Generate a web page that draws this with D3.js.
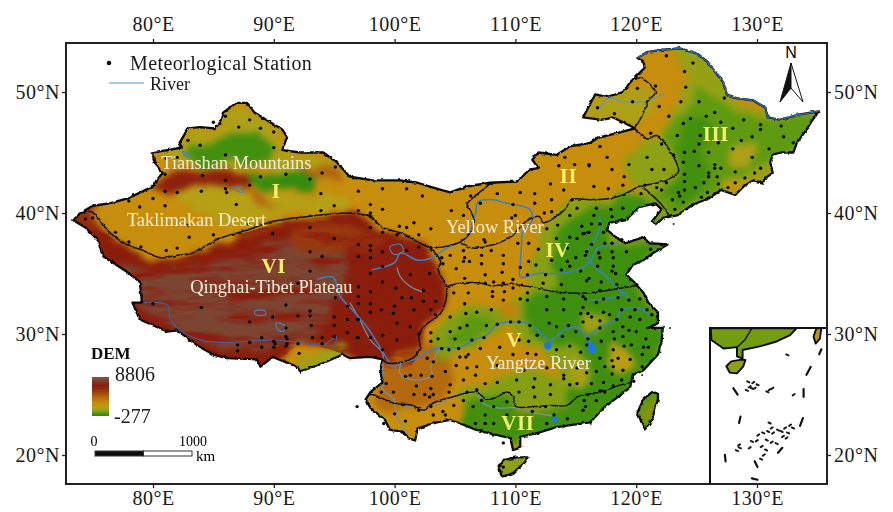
<!DOCTYPE html>
<html>
<head>
<meta charset="utf-8">
<script src="https://cdn.jsdelivr.net/npm/d3@7"></script>
<style>
  html,body{margin:0;padding:0;background:#fff;}
  svg{display:block;}
  text{font-family:"Liberation Serif",serif;}
</style>
</head>
<body>
<div id="chart"></div>
<script>
// tick labels
const lonTicks = [80, 90, 100, 110, 120, 130];
const latTicks = [20, 30, 40, 50];

// dem colours, elevation in m
const demStops = [0, 150, 300, 550, 800, 1100, 1700, 2500, 3300, 5200, 8806];
const demColors = ["#2c8a10", "#3f8f0e", "#5f9a10", "#8ea015", "#b5a016", "#c78d0c", "#b4690e", "#98380f", "#8a1d0b", "#7c4532", "#7a5a4a"];
const legendOffsets = [1, 0.96, 0.92, 0.86, 0.78, 0.68, 0.52, 0.36, 0.22, 0.08, 0];

// mainland outline, lon/lat
const chinaOutline = [[73.4,39.4],[74,40],[75,40.6],[76.4,40.8],[77.9,41.2],[80,42.2],[80.3,42.7],[80.8,43.3],[80.2,44],[79.9,45],[81.2,45.2],[82.4,45.4],[82.2,45.8],[82.9,47],[83.9,47.1],[85.1,47],[85.5,47.4],[85.8,48.3],[86.9,49.1],[87.8,49.1],[88.4,48.3],[89.7,47.5],[90.7,46.9],[91.1,46.3],[90.7,45.2],[92.2,45],[94.1,45],[95.2,44.2],[96.3,43],[98.2,42.7],[100.5,42.7],[101.9,42.5],[103.2,42.1],[104.6,41.7],[106,42.2],[107.9,42.5],[110.1,42.6],[111.2,43.6],[111.9,43.7],[111.4,44.4],[111.9,45],[113.4,44.8],[114.5,45.5],[116.2,45.8],[116.8,46.2],[118.4,46.6],[119.9,47],[118.1,47.9],[117.2,47.7],[115.6,47.9],[116.6,49.8],[117.6,49.6],[118.9,50],[119.5,50.8],[120.7,52],[120.6,52.5],[120.1,52.8],[120.9,53.3],[122.2,53.5],[123.6,53.6],[125,53.2],[125.9,52.5],[126.5,51.7],[127.2,50.8],[127.5,49.8],[128.3,49.5],[129.7,49.3],[130.7,48.7],[130.9,47.9],[131.9,47.7],[133.3,48.1],[135.1,48.4],[134.6,47.7],[134.1,46.9],[133.3,45.8],[133,45],[131.9,45],[131.3,44.8],[131.1,44.2],[131.3,43.3],[130.7,42.9],[130.5,42.5],[129.7,42.7],[128.9,42.2],[128.2,41.5],[127,41.9],[126,41.2],[124.7,40.7],[123.4,39.8],[122.2,39.6],[121.6,39],[121.3,39.3],[122.1,40.3],[121.6,40.8],[120.3,40.5],[119.1,39.4],[117.8,39.2],[117.6,38.6],[118.3,38],[119.1,37.5],[120.6,38],[121.1,37.5],[122.6,37.4],[121.4,36.7],[120.6,36.1],[119.7,35.7],[119.2,34.9],[119.9,34.2],[120.6,33.4],[121,32.6],[121.8,31.8],[121.8,30.9],[121,30.5],[122.2,30.5],[122.1,29.4],[121.8,28.3],[120.6,27],[119.7,26.6],[119.5,25.6],[118.5,24.8],[117.3,23.9],[116.2,22.7],[113.4,22.3],[111.8,21.8],[110.4,21.5],[110.4,20.6],[109.8,20.4],[109.6,21.4],[108.2,21.7],[106.7,22.1],[105.7,22.5],[104.6,22.9],[103.5,22.7],[101.9,22.2],[101.7,21.2],[101.1,21.4],[100.7,21.9],[99.6,22.1],[99.2,22.9],[98,23.9],[97.6,24.6],[98,25.2],[99,26],[98.8,27],[99,27.9],[98,28.1],[97.6,28.1],[96.3,28],[95.7,28.3],[94.1,27.6],[92.2,26.9],[91.9,27.3],[89.9,28.1],[88.9,27.3],[88.6,27.9],[86.1,28],[85,28.3],[83.9,28.9],[82,30.3],[81.2,30.2],[78.9,31.2],[78.3,32.6],[79.1,32.6],[78.9,34.3],[77.9,35.1],[75.9,36.4],[75.4,37.8],[74.4,38.8]];
const hainanOutline = [[108.6,19],[109,19.6],[110.1,19.8],[111,19.8],[110.8,19.4],[109.8,18.5],[108.9,18.2]];
const taiwanOutline = [[121.8,25.1],[121.3,25.2],[120.6,24.6],[120.1,23.5],[120.7,22.1],[121.3,22.9],[121.8,24.6]];

// zone boundaries
const borderPlateauNorth = [[73.8,39.9],[74.9,40.1],[76.4,38.4],[77.8,37.4],[79.2,36.9],[80.6,36.3],[82,36.5],[83.3,36.7],[85.3,37.8],[87.8,38.6],[89.9,39.3],[92.7,39.7],[96.3,40],[98,39.7],[99,38.8],[100.7,38.3],[102.1,37.5],[102.9,37.1],[103.8,36],[103.6,35.3],[104.3,33.9],[104.2,32.6],[103.8,31.7],[102.4,30.6],[102,29.8],[102.1,28.9],[101.5,28],[100.2,27.6],[99.4,27.6],[99,27.9]];
const borderOneFour = [[107.9,42.4],[106.8,41.5],[106,40.7],[106.5,39.7],[106.4,38.6],[105.4,37.6],[104,37.2],[102.9,37.1]];
const borderTwoFour = [[105.4,37.6],[106.5,37.1],[108.2,37.4],[109.6,38],[111,39.4],[112,39.7],[112.3,39.2],[114,40.2],[114.7,41.1],[116.2,41.1],[117.8,41.2],[118.9,41.5],[120.3,42.2],[122.2,42.6],[123.5,43.4],[123,44.8],[122.2,46],[121.7,46.4],[120.9,46.2],[119.9,47],[120.2,47.5],[120.6,48.3],[121,49.3],[121.6,50],[120.2,51.2],[119.5,50.8]];
const borderThreeFour = [[120.6,42.1],[122,40.8],[122.6,40],[122.8,39.7]];
const borderFourFive = [[104.3,33.9],[105.4,34.2],[107.2,34.2],[107.9,34],[109.8,34.1],[111.2,33.9],[112.6,33.6],[114,33.4],[116.2,33.4],[117.6,33.6],[120.1,34]];
const borderFiveSeven = [[97.6,24.6],[98,25],[99.9,24.3],[101.5,24.1],[102.4,23.7],[103.2,24.3],[104.8,24.8],[106.8,25.2],[107.6,24.6],[108.5,24.8],[109.3,25.2],[109.8,24.8],[110.1,24],[111.5,24],[112.9,24.1],[114.3,24.1],[115.1,24.8],[117,25.2],[118.1,25.6],[119.5,26]];

// rivers and lakes
const yellowRiver = [[98.1,35.3],[100,35.9],[100.5,36.7],[101.9,36.1],[103.1,36.3],[104.3,37.1],[106,38],[106.7,40],[106.9,40.9],[108.2,41.1],[108.9,40.9],[109.8,40.7],[111.2,40.3],[111.4,39.4],[110.6,38.4],[110.5,37.2],[110.4,35.7],[110.4,34.7],[111.8,35],[113.7,35],[115.1,35.3],[116.2,36],[116.8,37.1],[118.1,37.4],[118.8,37.9]];
const grandCanal = [[117,39.7],[117,38.8],[116.2,37.2],[115.8,36.7],[116.6,35.5],[117.6,34.7],[118.4,33.8],[119.2,33.2],[119.5,32.7]];
const yangtzeRiver = [[93.6,34.5],[94.9,34.7],[95.5,33.1],[96.5,32],[97.7,30.6],[98.8,28.9],[99.4,27.9],[99.9,27.2],[100.5,27.6],[101.7,27.9],[103.1,28.7],[104.3,28.9],[105.4,28.9],[106.5,29.5],[107.6,29.9],[108.5,30.8],[109.6,31],[111,30.9],[112,30.2],[112.9,29.5],[114,30.3],[115.1,30.6],[115.9,29.8],[117,30.6],[118.3,31.2],[118.8,32],[119.7,32.2],[120.6,32],[121.1,31.6]];
const huaiRiver = [[116.2,32.8],[118,33],[119.1,33.4]];
const pearlRiver = [[100,24.3],[102.1,23.9],[103.8,24.3],[105.4,25.1],[106.8,25.2],[107.3,24.3],[108.5,23.9],[110.1,23.9],[111.5,23.5],[113.4,23.2]];
const brahmaputra = [[79.2,32.6],[81.2,32.4],[81.4,31.3],[82,30.5],[83.9,29.5],[86.1,29.3],[88,29.4],[89.9,29.5],[92.2,29.3],[94.1,29.1],[95.2,29.8],[94.9,28.7]];
const nuRiver = [[96.3,32.6],[97.1,31.2],[98,29.5],[99,28.4],[99,26.8],[99,25.5],[99.9,24.6],[100.2,23.2],[101.1,21.7]];
const upperYellow = [[100.2,35.5],[100.5,34.7],[101.5,33.8],[102.3,33.5]];
const yalongRiver = [[100.5,27.6],[100.5,26.6],[102.1,26.2],[103.1,26.6],[103,27.3],[103.8,28.9]];
const argunRiver = [[117,48.7],[117.8,49.5],[118.9,49.2],[120.6,49.2],[122.4,49.9]];
const lakePoyang = [[115.9,29.4],[116.4,29.3],[116.7,28.6],[116.2,28.4],[116,28.9]];
const lakeDongting = [[112.4,29.2],[112.9,29.3],[112.9,28.8],[112.5,28.8]];
const lakePearl = [[113,23.1],[113.5,23.1],[113.4,22.6]];
const lakeQinghai = [[99.6,37.2],[100.5,37.4],[100.7,36.8],[99.9,36.6]];
const lakeNam = [[88.4,31.9],[89.3,31.9],[89.3,31.6],[88.5,31.6]];
const lakeYamzho = [[90.2,30.9],[90.9,30.7],[90.8,30.2],[90.3,30.4]];
const lakeEbinur = [[82.4,45.1],[83.1,44.8],[82.9,44.6]];
const lakeBosten = [[86.6,42.1],[87.4,42.1],[87.4,41.7]];

// terrain patches
const ringPlateauRed = [[73,39.3],[74.9,39.6],[76.4,38.1],[77.8,37.1],[80.6,36.1],[83.3,36.5],[85.3,37.5],[87.8,38.4],[89.9,39],[92.8,39.5],[96.3,39.8],[98,39.5],[99,38.6],[100.7,38.2],[102.1,37.4],[103.4,36],[104.3,33.6],[104.2,32.4],[102.5,30.3],[102.1,28.7],[101.3,27.4],[99.2,27.2],[95.9,28.3],[92.2,29.1],[88.9,26.6],[83.9,27.4],[77.3,29.9],[74.8,36.1]];
const ringPlateauGrey = [[75.6,36],[79.8,35.1],[83.9,35.5],[88,36.9],[92.2,37.8],[95.9,37],[96.3,35.3],[95.1,32.8],[93.8,30.3],[90.5,29.1],[86,28.7],[81.4,30.8],[78.9,32.4],[77.7,34.5]];
const ringQaidam = [[91.3,38.4],[94.7,39],[98.4,38.4],[99.2,37.4],[97.1,36.9],[93.8,37.1],[91.8,37.4]];
const ringAssam = [[91.8,26.6],[92.2,27.9],[93.8,28.3],[95.5,29.1],[96.3,28.5],[95.9,27.7],[93.8,27]];
const ringYunnan = [[99,27.7],[102.1,28.7],[104.2,29.1],[104.6,26.6],[103.8,24.6],[100.5,23.7],[98.4,24.1],[98.4,26.2]];
const ringTarimYellow = [[81.8,41.3],[85.1,42.5],[88,41.9],[92.2,41.5],[96.3,41.2],[96.5,40.2],[92.2,40],[88.9,39.4],[86,39],[84.3,40.1]];
const ringNorthXinjiang = [[82.6,46.4],[85.1,46.9],[86,48.1],[87.6,48.5],[90.5,46.4],[90.9,44.8],[93.8,44.5],[95.9,43.1],[94.7,42.6],[89.7,43.6],[83.9,44],[81,44.4]];
const ringDzungar = [[82.8,45.3],[85.1,46],[87.2,46.6],[89.2,46.2],[90.2,45],[89.5,44.1],[86.4,44.2],[83.7,44.1]];
const ringTianshan = [[80,42.3],[82.2,43.2],[85.1,43.7],[87.6,43.4],[88.4,42.4],[86.5,41.9],[83.5,42.3],[81,41.3]];
const ringEastTianshan = [[92.2,43.7],[94.7,43.7],[95.6,42.6],[94,42.9]];
const ringKuruk = [[86.8,41.9],[88.4,41.7],[90.5,40.7],[88.9,40.7]];
const ringTurpan = [[88,42.8],[90.1,43.3],[93.2,43.3],[93.4,42.2],[90.5,42],[88.5,42]];
const ringPamir = [[73.3,39.6],[74.4,40.7],[75.6,40.8],[74.8,39.6],[75.6,38.6]];
const ringHulun = [[115.8,47.9],[116.8,49.6],[119.1,49.8],[120.3,50.6],[121.6,49.8],[120.3,47.3],[118.3,47.9]];
const ringNortheastOlive = [[123,53.3],[125.3,53.5],[126.9,51.4],[128.2,49.3],[131.1,48.5],[135.2,48.5],[133.6,45.2],[131.5,43.6],[131.1,42.3],[128.2,41.1],[123.6,39.4],[121.1,39],[120.3,41.9],[122.4,42.7],[121.6,45.2],[123.6,49.3],[124.5,51.4]];
const ringNortheastGreen = [[125.3,50.6],[127.8,48.5],[131.1,47.7],[134.8,48.3],[133.2,45.2],[131.1,44.4],[129.4,43.6],[127,42.3],[124.5,40.7],[122.4,39.6],[121.1,41.5],[122.8,43.1],[122.4,45.2],[122.8,47.3],[124.5,48.9]];
const ringNortheastPlain = [[123.8,47.7],[126.5,47.3],[125.3,45.2],[125.7,42.3],[123.6,40.7],[122.1,41.9],[123.6,45.2]];
const ringChangbai = [[127.1,42.1],[129,42.9],[130.7,42.9],[129.8,41.9],[128.2,41.3]];
const ringZhangguang = [[128.2,45.4],[129.8,45.6],[129,43.7],[127.8,44]];
const ringHorqin = [[120.7,46],[122.4,46],[123.6,43.1],[120.3,42.2],[118.8,43.4],[119.5,45.2]];
const ringEastOlive = [[110.8,34.1],[112,37.8],[114.1,40.7],[117,41.2],[120.3,41.9],[122.8,39.8],[123.2,30.3],[120.3,25.8],[117,23.3],[113.3,24.6],[113.7,27],[112,28.7],[109.6,30.3],[109.7,32.4]];
const ringEastGreen = [[113.3,34.1],[112.9,37],[114.9,39.8],[117.4,40.7],[120.3,41.5],[121.6,39.8],[120.3,37.9],[117.8,38.8],[117.7,36.9],[119.5,37.4],[122.4,37.4],[120.3,35.3],[120.3,33.6],[122,31.2],[122,28.7],[119.5,25.4],[116.6,23.3],[114.1,25],[115.4,28.7],[112,29.5],[110.8,32.8]];
const ringWuyi = [[118,28.9],[119.5,28.7],[119.9,27.2],[118.5,26.9]];
const ringNanling = [[114.5,27.9],[116.2,27.5],[116.2,25.8],[114.7,25.4]];
const ringDabie = [[115.8,31.6],[117.4,31.3],[117,30.3],[115.8,30.3]];
const ringSichuanRim = [[103.1,29.1],[104.2,31.2],[106.6,32.4],[109.1,32.2],[110.8,31.2],[109.6,30.8],[107.9,29.9],[105.8,28.7],[103.8,27.7]];
const ringSichuan = [[104.6,29.9],[106.2,31.3],[108.3,31.3],[107.1,29.9],[105,28.9]];
const ringQinling = [[108.3,32.4],[110.4,32.2],[110,31.3],[108.5,31.6]];
const ringSouthGreen = [[106.2,24.4],[107.1,24.8],[109.6,25],[110.4,23.7],[116.2,24.4],[117.4,23.7],[116.3,22.2],[112,21.5],[109.6,21.1],[106.7,21.9],[105.6,23.1]];
const ringGuangxi = [[105.4,25],[109.6,26.6],[113.7,26.2],[113.7,24.1],[109.6,24.1],[106.2,23.7]];
const ringHainan = [[107.8,20.1],[111.8,20.1],[111.8,17.5],[107.8,17.5]];
const ringTaiwan = [[119.5,26],[122.5,26],[122.5,21.5],[119.5,21.5]];
const ringTaiwanPeak = [[121.1,24.3],[121.5,24.6],[121.1,23.1],[120.7,22.9]];

const demElevs = [3300, 5200, 2500, 650, 1700, 800, 750, 170, 3200, 1800, 1700, 60, 2800, 750, 600, 300, 170, 950, 750, 550, 520, 150, 850, 700, 650, 480, 280, 1300, 500, 170, 550, 300, 1300];
const demRings = [ringPlateauRed, ringPlateauGrey, ringQaidam, ringAssam, ringYunnan, ringTarimYellow, ringNorthXinjiang, ringDzungar, ringTianshan, ringEastTianshan, ringKuruk, ringTurpan, ringPamir, ringHulun, ringNortheastOlive, ringNortheastGreen, ringNortheastPlain, ringChangbai, ringZhangguang, ringHorqin, ringEastOlive, ringEastGreen, ringWuyi, ringNanling, ringDabie, ringSichuanRim, ringSichuan, ringQinling, ringGuangxi, ringSouthGreen, ringHainan, ringTaiwan, ringTaiwanPeak];

// meteorological stations, lon/lat
const stationsWest = [[86,48],[88,47.7],[87.1,47.1],[88.9,47],[90,46.7],[85,47.5],[82.9,46],[83.9,45.6],[90,45.4],[82,44.6],[81.1,44.5],[86,44.8],[95.1,43.8],[94,43.3],[81,43.2],[84.1,43.1],[88.9,43],[91,43.2],[93,42.8],[86,42.7],[86,42],[88,42.3],[81,41.8],[82,41.7],[84,41.8],[86.1,41.7],[93.9,41.6],[97,41.8],[80,41.2],[78,41],[78.9,40.5],[81,40.6],[86.9,40.7],[95,40.6],[93.9,40.2],[97,40.2],[75,39.6],[74.4,39.5],[82.9,39],[87.9,39.1],[76.9,38.4],[89.9,38.3],[93,38.8],[83,38],[85,38.2],[95,37.9],[78,37.6],[79,37.2],[81.1,36.9],[82,37.1],[93,36.8],[94,36.4],[97,37.4],[97,36.4]];
const stationsTibet = [[93,35.2],[92,34.2],[95.1,33],[96.1,32.3],[97,33.1],[80,32.5],[84,32.2],[91,32.4],[93,31.9],[93,31.5],[92,31.5],[89.9,31.4],[95,31.4],[96.1,31.2],[97,31.2],[88,31],[93.1,30.7],[95,30.7],[91,30.5],[96.1,30.1],[95,29.8],[97,29.7],[89,29.7],[91,29.8],[91.1,29.6],[90,29.4],[90.1,29.2],[92,29.2],[91.1,29.2],[93.2,29.7],[94,29.7],[94,29.2],[88,29.3],[87,29.1],[89,28.9],[90,28.9],[91,29],[87,28.6],[92.1,28.4]];
const stationsNorth = [[99,42],[101,42],[102.3,41.4],[98,40.7],[99,40.3],[98,40],[98,39.7],[106.3,41.4],[108.5,41.6],[110.4,41.7],[111.6,41.6],[114,41.9],[112.9,42.4],[113.6,43.9],[114.9,44],[114.1,44.6],[116.1,44],[111.6,40.8],[113,41.1],[114.7,41.1],[107.1,40.8],[109.8,40.7],[104.7,40.2],[105.7,39.8],[110,39.8],[113,40.1],[112.4,40],[114.5,39.8],[115.1,40.4],[109.7,39.6],[100.4,38.9],[101,38.8],[101.6,39.2],[103,38.7],[102,38.2],[98,38.8],[99,38.4],[100.2,38.2],[98,37.3],[98,36.9],[99,36.8],[101,36.9],[102,37.2],[98,36.3],[99,35.6],[107.4,37.8],[107.5,37.6],[105.7,36.9],[105.8,36.3],[104.6,36.5],[103.9,36.3],[104,35.8],[107.2,36.5],[108,36.9],[109,36.5],[107.2,35.8],[109,35.8],[105.7,36],[106.2,36],[110.2,37.5],[111.1,37.5],[111.9,37],[111.1,36],[112.6,38.7],[113.5,39],[113.4,37.9],[114.5,38],[114.3,37.1],[113,36.1],[115.1,37.9],[115.5,38.9],[115.7,38.3],[116.1,38.4],[115,36.3],[115.8,36.5],[114.3,36]];
const stationsNortheast = [[122.5,53],[124.7,52.4],[124,51.7],[121.6,50.5],[124.1,50.4],[120.1,50.3],[119.7,49.2],[121.9,48.8],[123.7,49.2],[125.2,49.2],[127.3,49.5],[116.8,48.7],[118.2,48.2],[122.7,48],[124.5,47.8],[125.8,48],[126.5,48.3],[123.9,47.4],[127,47.5],[128.9,47.7],[130.3,47.3],[132,47.2],[128,47],[130.3,46.9],[123.4,46.4],[125.3,46.4],[121.2,46.6],[128.7,46],[129.6,46.3],[132.2,46.3],[126.8,45.8],[125.2,45.7],[122.1,45.7],[133,45.8],[128,45.3],[131,45.3],[117,45.5],[124.8,45.1],[124,45],[126,45],[123.1,44.8],[120.9,44.6],[117.6,44.6],[129.6,44.6],[123.9,44.2],[119.4,44],[116.1,43.9],[125.2,43.9],[126.5,44],[126.5,43.7],[127,43.7],[130.3,43.7],[118,43.6],[121.3,43.6],[122.3,43.6],[124,43.2],[126,43.3],[128.2,43.4],[129.8,43.3],[129,42.9],[126,43],[126.7,43],[119,43],[124,42.6],[125.6,42.5],[128.2,42.5],[126.8,42.4],[127.6,42.1],[124.9,42.1],[118.9,42.3],[116.5,42.2],[117.7,42],[120.7,42.3],[122.5,42.5],[121.7,42.1],[122.1,41.9],[124,41.9],[123.5,41.7],[125.9,41.7],[125.4,41.3],[120.4,41.6],[123.6,41.4],[123,41.1],[123.9,40.9],[124.7,40.7],[118.9,40.4],[117.9,40.3],[116.7,40.4],[123.2,40.3],[116.5,39.8],[118,39.7],[118.8,39.4],[116.3,39.1],[117,39.1],[115.6,38.3],[116,38.4],[117.3,38.4],[116.3,37.4],[117.4,37.5],[118,37.5],[118.8,37.8],[118,36.8],[116.9,36.7],[119.2,36.8],[121.2,37],[120.9,36.3],[118.1,36.3],[117,36.3],[115.9,36.8]];
const stationsSouthwest = [[98,35],[97,33.9],[99,34.3],[100.1,33.8],[101.3,34.9],[100,32.3],[100.6,33],[101.4,33],[102.4,33.6],[102.9,35],[103.4,32.7],[102.4,32.7],[101.6,32],[99.9,31.7],[100.2,30.9],[101.3,30.6],[98.9,32],[98,32.5],[98,31.8],[97,32.5],[96.9,31.2],[96.9,29.7],[98,29.7],[99,29.9],[99,28.7],[100.2,29.5],[98,33.5],[102,30],[103,32],[103.4,31.6],[96.9,24],[100,23.4],[99.1,22.6],[100.9,22.8],[100.6,21.9],[98.9,25.2],[99.9,25.2],[101.3,26.6],[102.2,26.6],[100.9,26.5],[103.1,26.5],[103,25.5],[101.8,25.7],[99.3,25.9],[101.6,25],[102.5,25],[103.2,25],[102.9,24.8],[103,24],[102,23.7],[104,23.6],[103.2,23.3],[104.2,23.3],[104.9,24.1]];
const stationsCentral = [[105.1,35.4],[108.9,35.1],[107.5,34.9],[105.8,34.6],[108.2,34.3],[109.8,34.5],[111,34.9],[112.5,34.9],[113.8,35.3],[113.8,34.1],[115.4,35.2],[116.1,34.6],[114.5,35.6],[111.7,35.7],[110.4,35.5],[107.5,34.2],[109,34.2],[109.8,33.8],[112.3,34.2],[111,33.4],[104.9,33.4],[106.1,33.4],[108.1,33.5],[109.1,33.5],[108.1,33.1],[110.4,32.9],[109,32.8],[111,32.8],[105.8,32.5],[112.6,33.1],[114,32.9],[115.6,33.1],[106.8,31.8],[105.9,31.7],[108,32],[104.6,31.4],[112.6,32],[114,32],[115.4,31.7],[106,30.7],[105.4,30.5],[104.6,30.2],[108.5,30.8],[107.6,30.7],[109.6,31],[110.3,31],[111.2,30.7],[112.8,30.9],[113.4,30.6],[114.4,30.7],[115.6,31],[103,30.1],[103.6,29.6],[105,29.6],[103,29.4],[106.4,29.5],[107.4,29.7],[108.7,28.9],[110.3,29.5],[111.8,29.9],[113.9,29.8],[115,30.2],[111.1,29.4],[103.9,28.8],[104.5,28.7],[105.3,28.8],[107.1,28.8],[106.1,28.3],[105.9,28.1],[105.4,28.1],[109.8,28.3],[111,28.4],[111.7,28.3],[113.4,28.7],[114.5,29],[115.9,29.1],[115.4,28.5],[103.2,27.7],[102.7,28],[105.1,27.4],[106,27.2],[104.2,26.9],[106.8,27.3],[108.5,27.4],[110.7,27],[111.6,26.3],[112.6,27.2],[114,26.6],[114,26.3],[115.1,27.2],[106.7,26.6],[105.7,26.2],[104.6,25.8],[107.5,25.9],[108.5,26],[110.1,26.2],[112.9,25.8],[111.5,25.6],[114.5,25.8],[115.1,25.9],[104.5,25.2],[106,25.2],[106.8,25.4],[110.3,25.2],[111.6,24.8],[112.9,25],[105.7,24.5],[107.2,24.5],[107.5,23.3],[106.5,24],[108.2,24],[109.3,24.4],[109.3,23.3],[111.4,23.6],[112.5,24],[114.3,23],[113.2,23.3],[114,22.4],[115.6,23.7],[108.2,22.6],[107.5,22.6],[106.7,22.6],[112.6,22.6],[109,19],[109,21]];
const stationsEast = [[116.8,35.6],[118.1,35.6],[118,35.2],[118.3,35],[115.9,34.4],[117.1,34.3],[118.4,34.1],[117,33.6],[115.8,32.9],[116.7,32.6],[117.3,32.9],[118.5,33],[119.4,32.8],[120.3,32.9],[115.6,32.2],[117.3,31.8],[117.8,31.6],[118.8,32],[119.9,32],[120.9,32],[116,31.7],[116.3,31.4],[118.4,31.2],[119.5,31.4],[120.3,31.2],[121.3,31.6],[117,31.1],[117,30.5],[118.1,30.2],[118.9,30.6],[119.4,30.3],[120,30.2],[116,29.6],[117.1,29.4],[118.2,29.6],[118.9,29.8],[120.8,29.6],[119.6,29.1],[119,29],[118.1,28.7],[120.6,28.9],[121,28.9],[117,28],[118.5,28],[118,27.8],[120.5,28.3],[119.5,27.9],[117.4,27.3],[118.1,27.3],[118.9,27],[120.5,27.3],[116.7,26.9],[115.9,26.8],[118,26.7],[116.3,25.9],[117.3,26],[118.8,26.2],[119.8,26.1],[118.1,25.7],[117,25.3],[117.4,25.2],[116,25],[115.7,24.5],[116.7,24.5],[115.8,24]];
const coastIslets = [[122.8,30.5],[122.3,30.6],[122.1,29.2],[122,28.5],[120.5,26.6],[122.3,39.4],[123.1,39.1]];

// inset, south china sea
const insetCoast = [[106,24.65],[106.1,23],[107.8,21.8],[109.7,22],[109.7,20.7],[110.5,20.4],[110.5,21.6],[112.9,22.1],[115.3,22.8],[117.2,23.7],[118.1,24.65]];
const insetBorder = [[111.8,24.65],[110.8,23],[109.7,22]];
const insetHainan = [[108.2,19.3],[108.9,20],[110.1,20.2],[110.9,20.2],[110.6,19.3],[109.7,18.3],[108.7,18.4]];
const insetTaiwan = [[120.5,23.5],[120.9,24.65],[121.6,24.65],[121.4,23.2],[120.8,22.5]];
const insetDashes = [[[120.1,19.2],[119.5,18.1]],[[121.6,21.7],[121.3,21]],[[109.2,16.2],[109.8,15.3]],[[119.1,16.1],[119.1,15]],[[110.2,12.2],[110,11.3]],[[119,12],[118.6,10.9]],[[116.1,7.8],[115.5,7.1]],[[108,6.8],[108.1,5.9]],[[112.2,5.9],[112.6,5.1]],[[111.8,3.5],[112.6,3.3]]];
const insetIslands = [[111.3,17.1],[112,17],[112.6,16.7],[111.5,16.4],[111.8,16.2],[112.2,16.2],[111.1,15.9],[114.3,16],[114,15.7],[114.7,16.2],[116.8,20.9],[117.7,15.3],[114.3,11.3],[114.6,10.6],[114.1,10.1],[114.8,9.9],[116,10.1],[116.5,10.6],[115.5,10.3],[116.2,9.4],[116.9,9.9],[117.2,11],[117.6,10.6],[116.7,9.2],[113.4,9.9],[112.7,9.6],[111.8,8.7],[112.5,8.8],[113.9,8.9],[114.6,8.6],[115.3,8.4],[113.2,8],[113.8,7.5],[111.5,7.8],[109.7,7.4],[110,8.2],[110.1,7.8],[113.5,6.8],[113.1,6.2]];

// text on the map
const areaNames = ["Tianshan Mountains", "Taklimakan Desert", "Qinghai-Tibet Plateau", "Yellow River", "Yangtze River"];
const areaLon = [86.9, 83.6, 89.8, 108.3, 111.9];
const areaLat = [43.65, 38.9, 33.4, 38.35, 27.1];
const zoneNames = ["I", "II", "III", "IV", "V", "VI", "VII"];
const zoneLon = [90.2, 114.4, 126.6, 113.5, 109.9, 90, 110.2];
const zoneLat = [41.25, 42.5, 45.95, 36.4, 28.9, 35.05, 22.1];
const scaleBarKm = [0, 500, 1000];

const width = 893, height = 512;
const frame = {left: 66, right: 827, top: 43, bottom: 484};

const svg = d3.select("#chart").append("svg")
    .attr("width", width).attr("height", height)
    .attr("viewBox", `0 0 ${width} ${height}`);

const x = d3.scaleLinear().domain([80, 130]).range([153, 757]);
const y = d3.scaleLinear().domain([20, 50]).range([455, 92]);
const demColor = d3.scaleLinear().domain(demStops).range(demColors).clamp(true);

const closed = d3.line().x(d => x(d[0])).y(d => y(d[1])).curve(d3.curveLinearClosed);
const soft = d3.line().x(d => x(d[0])).y(d => y(d[1])).curve(d3.curveCatmullRomClosed.alpha(0.5));
const open = d3.line().x(d => x(d[0])).y(d => y(d[1]));
const flow = d3.line().x(d => x(d[0])).y(d => y(d[1])).curve(d3.curveCatmullRom.alpha(0.5));

const defs = svg.append("defs");

// terrain filter, blur plus wiggle so the patches dont look like polygons
const terrainFilter = defs.append("filter").attr("id", "terrain")
    .attr("x", "-5%").attr("y", "-5%").attr("width", "110%").attr("height", "110%")
    .attr("color-interpolation-filters", "sRGB");
terrainFilter.append("feTurbulence").attr("type", "fractalNoise").attr("baseFrequency", 0.05)
    .attr("numOctaves", 4).attr("seed", 7).attr("result", "noise");
terrainFilter.append("feDisplacementMap").attr("in", "SourceGraphic").attr("in2", "noise")
    .attr("scale", 16).attr("xChannelSelector", "R").attr("yChannelSelector", "G").attr("result", "moved");
terrainFilter.append("feGaussianBlur").attr("in", "moved").attr("stdDeviation", 3.4);

const roughFilter = defs.append("filter").attr("id", "rough")
    .attr("x", "-5%").attr("y", "-5%").attr("width", "110%").attr("height", "110%")
    .attr("color-interpolation-filters", "sRGB");
roughFilter.append("feTurbulence").attr("type", "fractalNoise").attr("baseFrequency", 0.22)
    .attr("numOctaves", 2).attr("seed", 3).attr("result", "noise");
roughFilter.append("feDisplacementMap").attr("in", "SourceGraphic").attr("in2", "noise")
    .attr("scale", 3).attr("xChannelSelector", "R").attr("yChannelSelector", "G").attr("result", "moved");
roughFilter.append("feGaussianBlur").attr("in", "moved").attr("stdDeviation", 0.3);

// red streaks over the plateau
const streaks = defs.append("filter").attr("id", "streaks")
    .attr("x", "0%").attr("y", "0%").attr("width", "100%").attr("height", "100%")
    .attr("color-interpolation-filters", "sRGB");
streaks.append("feTurbulence").attr("type", "fractalNoise").attr("baseFrequency", "0.018 0.09")
    .attr("numOctaves", 4).attr("seed", 11).attr("result", "noise");
streaks.append("feColorMatrix").attr("in", "noise").attr("type", "matrix")
    .attr("values", "0 0 0 0 0.55  0 0 0 0 0.11  0 0 0 0 0.05  3 0 0 0 -1.35").attr("result", "tint");
streaks.append("feComposite").attr("in", "tint").attr("in2", "SourceAlpha").attr("operator", "in").attr("result", "cut");
streaks.append("feGaussianBlur").attr("in", "cut").attr("stdDeviation", 0.7);

const softText = defs.append("filter").attr("id", "softText");
softText.append("feGaussianBlur").attr("stdDeviation", 0.3);

defs.append("clipPath").attr("id", "land").selectAll("path")
    .data([chinaOutline, hainanOutline, taiwanOutline]).join("path")
    .attr("d", closed);

const grad = defs.append("linearGradient").attr("id", "demGrad")
    .attr("x1", 0).attr("y1", 0).attr("x2", 0).attr("y2", 1);
grad.selectAll("stop").data(demColors.slice().reverse()).join("stop")
    .attr("offset", (d, i) => legendOffsets[demColors.length - 1 - i])
    .attr("stop-color", d => d);

// terrain
const landClip = svg.append("g").attr("clip-path", "url(#land)");
const terrain = landClip.append("g").attr("filter", "url(#terrain)");
terrain.append("rect").attr("x", 40).attr("y", 30).attr("width", 820).attr("height", 470)
    .attr("fill", demColor(1100));
terrain.selectAll("path").data(demRings).join("path")
    .attr("d", soft)
    .attr("fill", (d, i) => demColor(demElevs[i]));
landClip.append("path").attr("d", soft(ringPlateauRed)).attr("filter", "url(#streaks)");

// rivers
const riverLayer = svg.append("g").attr("fill", "none").attr("stroke-linejoin", "round");
riverLayer.selectAll(".grey").data([nuRiver, yalongRiver, upperYellow, pearlRiver, argunRiver]).join("path")
    .attr("class", "grey").attr("d", flow)
    .attr("stroke", "#6f93ad").attr("stroke-width", 1.2);
riverLayer.selectAll(".blue").data([yellowRiver, yangtzeRiver, grandCanal, huaiRiver]).join("path")
    .attr("class", "blue").attr("d", flow)
    .attr("stroke", "#3a80c4").attr("stroke-width", 1.5);
riverLayer.append("path").attr("d", flow(brahmaputra))
    .attr("stroke", "#3f62a8").attr("stroke-width", 1.1);
riverLayer.selectAll(".lake").data([lakePoyang, lakeDongting, lakePearl]).join("path")
    .attr("class", "lake").attr("d", soft)
    .attr("fill", "#1f78d8").attr("stroke", "#1f78d8").attr("stroke-width", 0.6);
riverLayer.selectAll(".pond").data([lakeQinghai, lakeNam, lakeYamzho, lakeEbinur, lakeBosten]).join("path")
    .attr("class", "pond").attr("d", soft)
    .attr("stroke", "#4a7fb8").attr("stroke-width", 1.2);

// boundaries
const lines = svg.append("g").attr("filter", "url(#rough)");
lines.selectAll(".zone").data([borderPlateauNorth, borderOneFour, borderTwoFour, borderThreeFour, borderFourFive, borderFiveSeven]).join("path")
    .attr("class", "zone").attr("d", flow)
    .attr("fill", "none").attr("stroke", "#161410").attr("stroke-width", 1.5);
lines.selectAll(".coast").data([chinaOutline, hainanOutline, taiwanOutline]).join("path")
    .attr("class", "coast").attr("d", closed)
    .attr("fill", "none").attr("stroke", "#0c0c0c").attr("stroke-width", 2.3).attr("stroke-linejoin", "round");

// the amur stretch of the border shows blue
const amurFrom = chinaOutline.findIndex(d => d[0] === 120.1 && d[1] === 52.8);
const amurTo = chinaOutline.findIndex(d => d[0] === 135.1 && d[1] === 48.4);
lines.append("path").attr("d", open(chinaOutline.slice(amurFrom, amurTo + 1)))
    .attr("fill", "none").attr("stroke", "#2c6aa8").attr("stroke-width", 1.4);

lines.selectAll(".islet").data(coastIslets).join("circle")
    .attr("class", "islet").attr("cx", d => x(d[0])).attr("cy", d => y(d[1])).attr("r", 1).attr("fill", "#222");

// stations
const stations = [].concat(stationsWest, stationsTibet, stationsNorth, stationsNortheast, stationsSouthwest, stationsCentral, stationsEast);
svg.append("g").selectAll("circle").data(stations).join("circle")
    .attr("cx", d => x(d[0])).attr("cy", d => y(d[1])).attr("r", 1.7)
    .attr("fill", "#0a0a0a");

// labels on the map
const mapText = svg.append("g").attr("filter", "url(#softText)");
mapText.selectAll(".area").data(areaNames).join("text")
    .attr("class", "area").text(d => d)
    .attr("x", (d, i) => x(areaLon[i])).attr("y", (d, i) => y(areaLat[i]))
    .attr("text-anchor", "middle").attr("font-size", 18.4).attr("fill", "#f3ecd8");
mapText.selectAll(".zoneName").data(zoneNames).join("text")
    .attr("class", "zoneName").text(d => d)
    .attr("x", (d, i) => x(zoneLon[i])).attr("y", (d, i) => y(zoneLat[i]))
    .attr("text-anchor", "middle").attr("font-size", 21).attr("font-weight", "bold").attr("fill", "#f4ef70").attr("letter-spacing", 0.6);

// inset
const insetBox = {left: 710, right: 827, top: 328, bottom: 484};
const ix = d3.scaleLinear().domain([105.9, 122.4]).range([insetBox.left, insetBox.right]);
const iy = d3.scaleLinear().domain([24.7, 2.7]).range([insetBox.top, insetBox.bottom]);
const insetClosed = d3.line().x(d => ix(d[0])).y(d => iy(d[1])).curve(d3.curveLinearClosed);
const insetOpen = d3.line().x(d => ix(d[0])).y(d => iy(d[1]));

const inset = svg.append("g");
inset.append("rect").attr("x", insetBox.left).attr("y", insetBox.top)
    .attr("width", insetBox.right - insetBox.left).attr("height", insetBox.bottom - insetBox.top)
    .attr("fill", "#fff");
inset.selectAll(".land").data([insetCoast, insetHainan, insetTaiwan]).join("path")
    .attr("class", "land").attr("d", insetClosed)
    .attr("fill", (d, i) => demColor([400, 560, 950][i]))
    .attr("stroke", "#0c0c0c").attr("stroke-width", 1.9).attr("stroke-linejoin", "round");
inset.append("path").attr("d", insetOpen(insetBorder))
    .attr("fill", "none").attr("stroke", "#111").attr("stroke-width", 1.3);
inset.selectAll(".dash").data(insetDashes).join("path")
    .attr("class", "dash").attr("d", insetOpen)
    .attr("fill", "none").attr("stroke", "#111").attr("stroke-width", 2.2).attr("stroke-linecap", "round");
inset.selectAll(".island").data(insetIslands).join("rect")
    .attr("class", "island")
    .attr("x", d => ix(d[0]) - 2.2).attr("y", d => iy(d[1]) - 1)
    .attr("width", 4.4).attr("height", 2).attr("rx", 1)
    .attr("transform", (d, i) => `rotate(${i % 2 ? -35 : 25} ${ix(d[0])} ${iy(d[1])})`)
    .attr("fill", "#1a1a1a");
inset.append("rect").attr("x", insetBox.left).attr("y", insetBox.top)
    .attr("width", insetBox.right - insetBox.left).attr("height", insetBox.bottom - insetBox.top)
    .attr("fill", "none").attr("stroke", "#111").attr("stroke-width", 2);

// axes
const lonFmt = d => d + "°E";
const latFmt = d => d + "°N";
const tickStyle = g => {
    g.select(".domain").remove();
    g.selectAll("line").attr("stroke", "#222").attr("stroke-width", 1.3);
    g.selectAll("text").attr("font-family", "Liberation Serif, serif").attr("font-size", 20)
        .attr("letter-spacing", 0.5).attr("fill", "#1a1a1a");
};
svg.append("g").attr("transform", `translate(0,${frame.top})`)
    .call(d3.axisTop(x).tickValues(lonTicks).tickFormat(lonFmt).tickSize(4).tickPadding(8)).call(tickStyle);
svg.append("g").attr("transform", `translate(0,${frame.bottom})`)
    .call(d3.axisBottom(x).tickValues(lonTicks).tickFormat(lonFmt).tickSize(4).tickPadding(3)).call(tickStyle);
svg.append("g").attr("transform", `translate(${frame.left},0)`)
    .call(d3.axisLeft(y).tickValues(latTicks).tickFormat(latFmt).tickSize(4).tickPadding(2)).call(tickStyle);
svg.append("g").attr("transform", `translate(${frame.right},0)`)
    .call(d3.axisRight(y).tickValues(latTicks).tickFormat(latFmt).tickSize(4).tickPadding(3)).call(tickStyle);

svg.append("rect").attr("x", frame.left).attr("y", frame.top)
    .attr("width", frame.right - frame.left).attr("height", frame.bottom - frame.top)
    .attr("fill", "none").attr("stroke", "#222").attr("stroke-width", 2);

// legend top left
const legend = svg.append("g").attr("filter", "url(#softText)");
legend.append("circle").attr("cx", 109).attr("cy", 63).attr("r", 2.3).attr("fill", "#111");
legend.append("text").text("Meteorlogical Station").attr("x", 130).attr("y", 70).attr("font-size", 20).attr("letter-spacing", 0.4).attr("fill", "#1a1a1a");
legend.append("line").attr("x1", 109).attr("x2", 144).attr("y1", 83).attr("y2", 83).attr("stroke", "#8fb6e6").attr("stroke-width", 1.6);
legend.append("text").text("River").attr("x", 150).attr("y", 90).attr("font-size", 18).attr("fill", "#1a1a1a");

// dem legend
legend.append("text").text("DEM").attr("x", 91).attr("y", 359).attr("font-size", 17).attr("font-weight", "bold").attr("fill", "#111");
legend.append("rect").attr("x", 92).attr("y", 377).attr("width", 17).attr("height", 39).attr("fill", "url(#demGrad)");
legend.append("text").text("8806").attr("x", 115).attr("y", 381).attr("font-size", 20).attr("fill", "#1a1a1a");
legend.append("text").text("-277").attr("x", 114).attr("y", 423).attr("font-size", 20).attr("fill", "#1a1a1a");

// scale bar
const km = d3.scaleLinear().domain([0, 1000]).range([95, 192]);
legend.selectAll(".bar").data([0, 1]).join("rect")
    .attr("class", "bar")
    .attr("x", i => km(scaleBarKm[i])).attr("y", 451)
    .attr("width", i => km(scaleBarKm[i + 1]) - km(scaleBarKm[i])).attr("height", 5)
    .attr("fill", i => i ? "#fff" : "#111")
    .attr("stroke", "#333").attr("stroke-width", 1);
legend.append("text").text("0").attr("x", km(0) - 1).attr("y", 446).attr("text-anchor", "middle").attr("font-size", 14);
legend.append("text").text("1000").attr("x", km(1000) + 1).attr("y", 446).attr("text-anchor", "middle").attr("font-size", 14);
legend.append("text").text("km").attr("x", 196).attr("y", 461).attr("font-size", 15);

// north arrow
const arrow = svg.append("g");
arrow.append("text").text("N").attr("x", 791).attr("y", 58).attr("text-anchor", "middle")
    .attr("font-size", 16).attr("style", "font-family:'Liberation Sans',sans-serif");
const arrowLine = d3.line();
arrow.append("path").attr("d", arrowLine([[791, 63], [780, 102], [791, 88]]) + "Z").attr("fill", "#111").attr("stroke", "#111");
arrow.append("path").attr("d", arrowLine([[791, 63], [803, 102], [791, 88]]) + "Z").attr("fill", "#fff").attr("stroke", "#111");
</script>
</body>
</html>
